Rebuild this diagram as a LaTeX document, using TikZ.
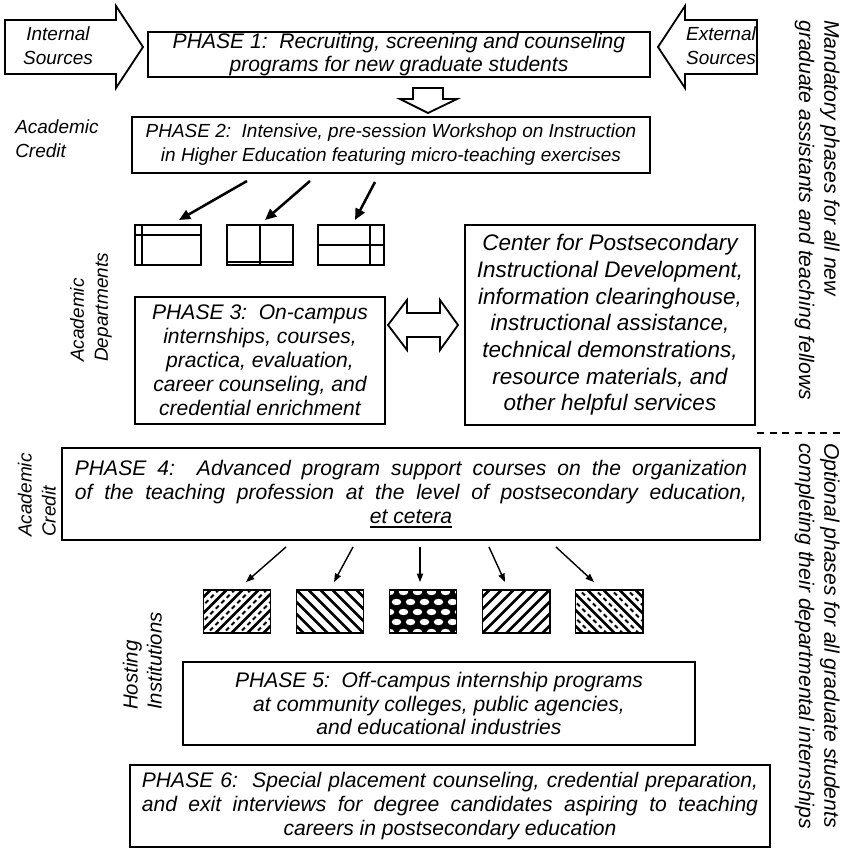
\documentclass[tikz,border=0pt]{standalone}
\usepackage{fontspec}
\setmainfont{Liberation Sans}
\usetikzlibrary{arrows.meta,calc}

\newcommand\thickul[1]{\setbox0\hbox{#1}\leavevmode\rlap{\rule[-3.5pt]{\wd0}{1.2pt}}\box0}

\begin{document}
\begin{tikzpicture}[x=0.025cm, y=-0.025cm,
    phase/.style={draw, line width=1.3pt, inner sep=0pt, align=center,
      font=\fontsize{15}{17}\selectfont\itshape},
    side/.style={align=left, inner sep=0pt, font=\fontsize{13.5}{17}\selectfont\itshape},
    column/.style={align=left, inner sep=0pt, rotate=-90, anchor=north west,
      font=\fontsize{15}{18}\selectfont\itshape},
    dept/.style={draw, line width=1.4pt, minimum width=1.65cm, minimum height=1cm, inner sep=0pt},
    host/.style={draw, line width=1.4pt, minimum width=1.675cm, minimum height=1.075cm, inner sep=0pt},
    block/.style={draw, line width=1.3pt, line join=miter},
    bigarrow/.style={line width=1.8pt, -{Triangle[length=8pt,width=7pt]}},
    thinarrow/.style={line width=1pt, -{Triangle[length=6pt,width=4.5pt]}},
    hatch/.style={line width=1.8pt},
    dashhatch/.style={line width=1.3pt, dash pattern=on 3pt off 2.5pt},
    hatchNE/.style={path picture={
      \foreach \i in {-72,-60,...,72}
        \draw[hatch] ($(path picture bounding box.center)+(\i-30,30)$) -- ++(60,-60);}},
    hatchNW/.style={path picture={
      \foreach \i in {-72,-60,...,72}
        \draw[hatch] ($(path picture bounding box.center)+(\i-30,-30)$) -- ++(60,60);}},
    dashNE/.style={path picture={
      \foreach \i in {-80,-64,...,80} {
        \draw[hatch] ($(path picture bounding box.center)+(\i-30,30)$) -- ++(60,-60);
        \draw[dashhatch] ($(path picture bounding box.center)+(\i-22,30)$) -- ++(60,-60);}}},
    dashNW/.style={path picture={
      \foreach \i in {-80,-64,...,80} {
        \draw[hatch] ($(path picture bounding box.center)+(\i-30,-30)$) -- ++(60,60);
        \draw[dashhatch] ($(path picture bounding box.center)+(\i-22,-30)$) -- ++(60,60);}}},
    net/.style={path picture={
      \fill (path picture bounding box.south west) rectangle (path picture bounding box.north east);
      \foreach \r in {0,...,4}
        \foreach \c in {0,...,5}
          \fill[white] ($(path picture bounding box.north west)+({\c*14+7*mod(\r,2)},{\r*10+2})$)
            ellipse [x radius=0.12cm, y radius=0.08cm];}}]

    \useasboundingbox (0,0) rectangle (845,848);

    %% Entry

    % Sources
    \draw[block] (5,20) -- (116,20) -- (116,6) -- (143,47) -- (116,88) -- (116,74) -- (5,74) -- cycle;
    \node[side, align=center] (ins) at (58,46) {Internal\\Sources};
    \draw[block] (757,20) -- (685,20) -- (685,6) -- (658,47) -- (685,88) -- (685,74) -- (757,74) -- cycle;
    \node[side, align=center] (exs) at (721,46) {External\\Sources};

    % Phase 1
    \node[phase, minimum width=12.55cm, minimum height=1.125cm] (p1) at (399,54.5)
      {PHASE 1:\ \ Recruiting, screening and counseling\\programs for new graduate students};
    \draw[block] (413,88) -- (443,88) -- (443,99) -- (457,99) -- (428,113) -- (400,99) -- (413,99) -- cycle;

    % Phase 2
    \node[side, anchor=west] (ac1) at (15,139) {Academic\\Credit};
    \node[phase, minimum width=12.95cm, minimum height=1.4cm, font=\fontsize{13.5}{17}\selectfont\itshape] (p2) at (391,145)
      {PHASE 2:\ \ Intensive, pre-session Workshop on Instruction\\in Higher Education featuring micro-teaching exercises};

    %% Academic departments

    \node[dept] (d1) at (168,245) {};
    \node[dept] (d2) at (260,245) {};
    \node[dept] (d3) at (351,245) {};
    \draw[line width=1.4pt] (d1.north west) ++(8,0) -- ++(0,40);
    \draw[line width=1.4pt] (d1.north west) ++(0,11) -- ++(66,0);
    \draw[line width=1.4pt] (d2.north) -- (d2.south);
    \draw[line width=1.4pt] (d2.south west) ++(0,-4) -- ++(66,0);
    \draw[line width=1.4pt] (d3.west) -- (d3.east);
    \draw[line width=1.4pt] (d3.north east) ++(-15,0) -- ++(0,40);

    \foreach \sx/\sy/\dx [count=\k] in {247/181/11, 310/181/5, 375/182/4} {
      \coordinate (u\k) at (\sx,\sy);
      \draw[bigarrow] (u\k) -- ($(d\k.north)+(\dx,-4)$);
    }

    \node[side, rotate=90, anchor=south west] (ad) at (112,362) {Academic\\Departments};

    % Phase 3 and center
    \node[phase, minimum width=6.25cm, minimum height=3.175cm] (p3) at (260,360.5)
      {PHASE 3:\ \ On-campus\\internships, courses,\\practica, evaluation,\\career counseling, and\\credential enrichment};
    \node[phase, minimum width=7.25cm, minimum height=5cm, font=\fontsize{16}{19}\selectfont\itshape] (cb) at (610,325)
      {Center for Postsecondary\\Instructional Development,\\information clearinghouse,\\instructional assistance,\\technical demonstrations,\\resource materials, and\\other helpful services};
    \draw[block] (388,325) -- (407,300) -- (407,313) -- (440,313) -- (440,300) -- (458,325)
      -- (440,350) -- (440,337) -- (407,337) -- (407,350) -- cycle;

    %% Optional phases

    % Phase 4
    \node[side, rotate=90, anchor=south west] (ac2) at (56,537) {Academic\\Credit};
    \node[phase, minimum width=17.45cm, minimum height=2.3cm] (p4) at (411,494)
      {\makebox[16.8cm][s]{PHASE 4:\ \ Advanced program support courses on the organization}\\
       \makebox[16.8cm][s]{of the teaching profession at the level of postsecondary education,}\\
       \thickul{et cetera}};

    % Hosting institutions
    \node[host, dashNE] (h1) at (237,611.5) {};
    \node[host, hatchNW] (h2) at (330,611.5) {};
    \node[host, net] (h3) at (423,611.5) {};
    \node[host, hatchNE] (h4) at (516,611.5) {};
    \node[host, dashNW] (h5) at (609,611.5) {};

    \foreach \sx/\dx [count=\k] in {286/9, 353/4, 420/-3, 489/-11, 556/-15} {
      \coordinate (t\k) at (\sx,547);
      \draw[thinarrow] (t\k) -- ($(h\k.north)+(\dx,-7)$);
    }

    \node[side, rotate=90, anchor=south west, font=\fontsize{14.5}{17}\selectfont\itshape] (hi) at (162,710) {Hosting\\Institutions};

    % Phase 5
    \node[phase, minimum width=12.8cm, minimum height=2.075cm] (p5) at (439,703.5)
      {PHASE 5:\ \ Off-campus internship programs\\at community colleges, public agencies,\\and educational industries};

    % Phase 6
    \node[phase, minimum width=16cm, minimum height=2.05cm] (p6) at (450,806)
      {\makebox[15.4cm][s]{PHASE 6:\ \ Special placement counseling, credential preparation,}\\
       \makebox[15.4cm][s]{and exit interviews for degree candidates aspiring to teaching}\\
       careers in postsecondary education};

    %% Right column
    \coordinate (sepL) at (757,433);
    \coordinate (sepR) at (845,433);
    \draw[line width=1.2pt, dash pattern=on 5pt off 4pt] (sepL) -- (sepR);
    \node[column] (mand) at (840,20) {Mandatory phases for all new\\graduate assistants and teaching fellows};
    \node[column] (opt) at (840,443) {Optional phases for all graduate students\\completing their departmental internships};

\end{tikzpicture}
\end{document}
